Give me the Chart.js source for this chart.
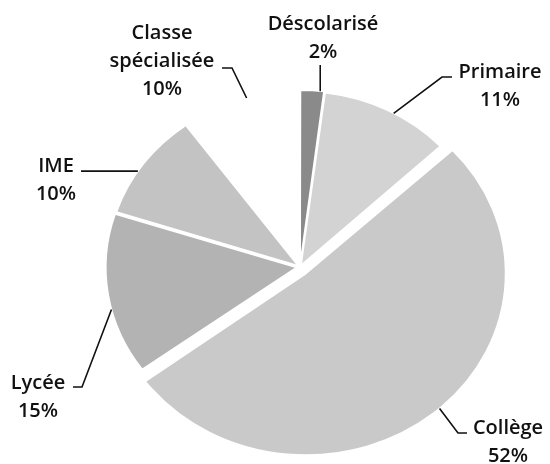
<!DOCTYPE html>
<html>
<head>
<meta charset="utf-8">
<script src="https://cdn.jsdelivr.net/npm/chart.js@4.4.1/dist/chart.umd.min.js"></script>
<style>
  html, body { margin: 0; padding: 0; background: #fff; }
  canvas { display: block; }
</style>
</head>
<body>
<canvas id="pieChart" width="550" height="464"></canvas>
<script>
// données
const categories = ['Déscolarisé', 'Primaire', 'Collège', 'Lycée', 'IME', 'Classe spécialisée'];
const percentages = [2, 11, 52, 15, 10, 10];
const labelLines = [['Déscolarisé'], ['Primaire'], ['Collège'], ['Lycée'], ['IME'], ['Classe', 'spécialisée']];

// style
const sliceColors = ['#8a8a8a', '#d3d3d3', '#c9c9c9', '#b3b3b3', '#c3c3c3', '#ffffff'];
const sliceOffsets = [8, 8, 34, 12, 8, 8];
const stretchX = 1.1; // le camembert original est un peu ovale

// position des étiquettes : centre du texte, angle d'accroche (degrés depuis midi), coude du trait
const labelLayout = [
    { x: 323, y: 24, angle: 6, elbow: 'vertical', lineTop: 65 },
    { x: 500, y: 72, angle: 29, elbow: [[452, 77], [442, 77]] },
    { x: 508, y: 428, angle: 138, elbow: [[467, 433], [458, 433]] },
    { x: 38, y: 383, angle: 256, elbow: [[73, 387], [82, 387]] },
    { x: 56, y: 166, angle: 303, elbow: 'horizontal', lineLeft: 81 },
    { x: 162, y: 33, angle: 344, elbow: [[222, 68], [232, 68]] }
];
const lineGap = 28;

const ovalPlugin = {
    id: 'ovalPie',
    beforeDatasetsDraw(chart) {
        const arc = chart.getDatasetMeta(0).data[0];
        const ctx = chart.ctx;
        ctx.save();
        ctx.translate(arc.x, 0);
        ctx.scale(stretchX, 1);
        ctx.translate(-arc.x, 0);
    },
    afterDatasetsDraw(chart) {
        const ctx = chart.ctx;
        ctx.restore();

        const meta = chart.getDatasetMeta(0);
        ctx.save();
        ctx.font = '600 20px "Open Sans"';
        ctx.fillStyle = '#111';
        ctx.strokeStyle = '#111';
        ctx.lineWidth = 1.6;
        ctx.textAlign = 'center';
        ctx.textBaseline = 'middle';

        meta.data.forEach((arc, i) => {
            const p = arc.getProps(['x', 'y', 'startAngle', 'endAngle', 'outerRadius', 'circumference']);
            const off = (sliceOffsets[i] || 0) / 4;
            const half = (p.startAngle + p.endAngle) / 2;
            const fix = 1 - Math.sin(Math.min(Math.PI, p.circumference));
            const r = p.outerRadius + off * fix;
            const a = labelLayout[i].angle * Math.PI / 180 - Math.PI / 2;
            const px = p.x + Math.cos(half) * off + Math.cos(a) * r;
            const py = p.y + Math.sin(half) * off + Math.sin(a) * r;
            const ax = p.x + (px - p.x) * stretchX;
            const ay = py;

            const lay = labelLayout[i];
            ctx.beginPath();
            if (lay.elbow === 'vertical') {
                ctx.moveTo(ax, lay.lineTop);
                ctx.lineTo(ax, ay);
            } else if (lay.elbow === 'horizontal') {
                ctx.moveTo(lay.lineLeft, ay);
                ctx.lineTo(ax, ay);
            } else {
                ctx.moveTo(lay.elbow[0][0], lay.elbow[0][1]);
                ctx.lineTo(lay.elbow[1][0], lay.elbow[1][1]);
                ctx.lineTo(ax, ay);
            }
            ctx.stroke();

            const lines = [...labelLines[i], percentages[i] + '%'];
            lines.forEach((t, k) => {
                ctx.fillText(t, lay.x, lay.y + k * lineGap);
            });
        });
        ctx.restore();
    }
};

new Chart(document.getElementById('pieChart'), {
    type: 'pie',
    data: {
        labels: categories,
        datasets: [{
            data: percentages,
            backgroundColor: sliceColors,
            borderColor: '#ffffff',
            borderWidth: 1.5,
            offset: sliceOffsets,
            clip: false
        }]
    },
    options: {
        responsive: false,
        animation: false,
        radius: 173,
        layout: { padding: { left: 50, right: 0, top: 70, bottom: 0 } },
        plugins: {
            legend: { display: false },
            tooltip: { enabled: false }
        }
    },
    plugins: [ovalPlugin]
});
</script>
</body>
</html>
